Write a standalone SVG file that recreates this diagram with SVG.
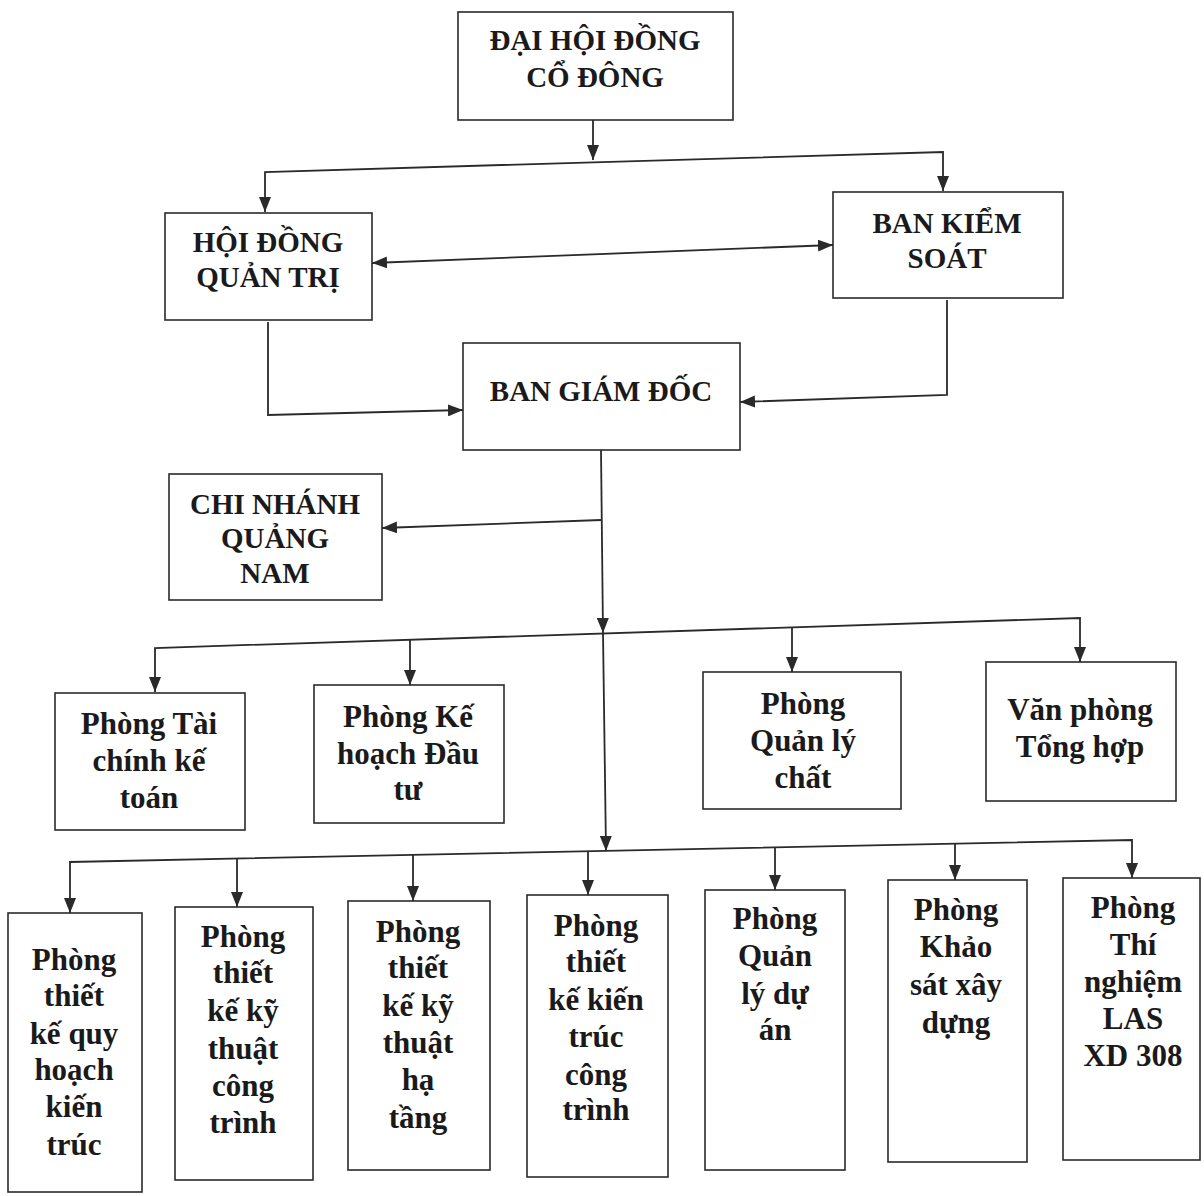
<svg xmlns="http://www.w3.org/2000/svg" width="1204" height="1196" viewBox="0 0 1204 1196">
<style>
rect.box{fill:#fff;stroke:#2a2a2a;stroke-width:1.6}
text{font-family:'Liberation Serif','Tinos','DejaVu Serif',serif;font-weight:bold;fill:#1a1a1a;text-anchor:middle}
.caps{font-size:29px}
.lbl{font-size:31px}
.conn path{fill:none;stroke:#2a2a2a;stroke-width:1.8}
</style>
<defs>
<marker id="ah" markerUnits="userSpaceOnUse" markerWidth="16" markerHeight="12" refX="15" refY="6" orient="auto-start-reverse" viewBox="0 0 16 12">
<path d="M0,0 L15,6 L0,12 z" fill="#2a2a2a"/>
</marker>
</defs>
<rect width="1204" height="1196" fill="#fff"/>
<g class="conn" id="connectors">
<path d="M593,120 L593,160" marker-end="url(#ah)"/>
<path d="M265,212 L265,172 L943,152 L943,191" marker-start="url(#ah)" marker-end="url(#ah)"/>
<path d="M372,263 L833,245" marker-start="url(#ah)" marker-end="url(#ah)"/>
<path d="M268,322 L268,415 L463,410" marker-end="url(#ah)"/>
<path d="M947,300 L947,395 L740,402" marker-end="url(#ah)"/>
<path d="M601,450 L603,633" marker-end="url(#ah)"/>
<path d="M603,633 L606,851" marker-end="url(#ah)"/>
<path d="M601,520 L382,528" marker-end="url(#ah)"/>
<path d="M155,692 L155,648 L1080,618 L1080,662" marker-start="url(#ah)" marker-end="url(#ah)"/>
<path d="M410,640 L410,685" marker-end="url(#ah)"/>
<path d="M792,627 L792,672" marker-end="url(#ah)"/>
<path d="M70,913 L70,862 L1132,840 L1132,878" marker-start="url(#ah)" marker-end="url(#ah)"/>
<path d="M237,858 L237,907" marker-end="url(#ah)"/>
<path d="M413,855 L413,901" marker-end="url(#ah)"/>
<path d="M588,851 L588,895" marker-end="url(#ah)"/>
<path d="M775,847 L775,890" marker-end="url(#ah)"/>
<path d="M955,844 L955,880" marker-end="url(#ah)"/>
</g>
<g id="dhdcd"><rect class="box" x="458" y="12" width="275" height="108"/>
<text class="caps" x="595" y="50">ĐẠI HỘI ĐỒNG</text><text class="caps" x="595" y="87">CỔ ĐÔNG</text></g>
<g id="hdqt"><rect class="box" x="165" y="213" width="207" height="107"/>
<text class="caps" x="268" y="252">HỘI ĐỒNG</text><text class="caps" x="268" y="287">QUẢN TRỊ</text></g>
<g id="bks"><rect class="box" x="833" y="192" width="230" height="106"/>
<text class="caps" x="947" y="233">BAN KIỂM</text><text class="caps" x="947" y="268">SOÁT</text></g>
<g id="bgd"><rect class="box" x="463" y="343" width="277" height="107"/>
<text class="caps" x="601" y="401">BAN GIÁM ĐỐC</text></g>
<g id="cnqn"><rect class="box" x="169" y="474" width="213" height="126"/>
<text class="caps" x="275" y="514">CHI NHÁNH</text><text class="caps" x="275" y="548">QUẢNG</text><text class="caps" x="275" y="583">NAM</text></g>
<g id="tckt"><rect class="box" x="55" y="693" width="190" height="137"/>
<text class="lbl" x="149" y="734">Phòng Tài</text><text class="lbl" x="149" y="771">chính kế</text><text class="lbl" x="149" y="808">toán</text></g>
<g id="khdt"><rect class="box" x="314" y="685" width="190" height="138"/>
<text class="lbl" x="408" y="727">Phòng Kế</text><text class="lbl" x="408" y="764">hoạch Đầu</text><text class="lbl" x="408" y="800">tư</text></g>
<g id="qlc"><rect class="box" x="703" y="672" width="198" height="137"/>
<text class="lbl" x="803" y="714">Phòng</text><text class="lbl" x="803" y="751">Quản lý</text><text class="lbl" x="803" y="788">chất</text></g>
<g id="vpth"><rect class="box" x="986" y="662" width="190" height="139"/>
<text class="lbl" x="1080" y="720">Văn phòng</text><text class="lbl" x="1080" y="757">Tổng hợp</text></g>
<g id="tkqh"><rect class="box" x="8" y="913" width="134" height="279"/>
<text class="lbl" x="74" y="970">Phòng</text><text class="lbl" x="74" y="1006">thiết</text><text class="lbl" x="74" y="1044">kế quy</text><text class="lbl" x="74" y="1080">hoạch</text><text class="lbl" x="74" y="1117">kiến</text><text class="lbl" x="74" y="1155">trúc</text></g>
<g id="tkktct"><rect class="box" x="175" y="907" width="138" height="273"/>
<text class="lbl" x="243" y="947">Phòng</text><text class="lbl" x="243" y="983">thiết</text><text class="lbl" x="243" y="1021">kế kỹ</text><text class="lbl" x="243" y="1059">thuật</text><text class="lbl" x="243" y="1096">công</text><text class="lbl" x="243" y="1133">trình</text></g>
<g id="tkktht"><rect class="box" x="348" y="901" width="142" height="269"/>
<text class="lbl" x="418" y="942">Phòng</text><text class="lbl" x="418" y="978">thiết</text><text class="lbl" x="418" y="1016">kế kỹ</text><text class="lbl" x="418" y="1053">thuật</text><text class="lbl" x="418" y="1090">hạ</text><text class="lbl" x="418" y="1128">tầng</text></g>
<g id="tkktr"><rect class="box" x="527" y="895" width="141" height="282"/>
<text class="lbl" x="596" y="936">Phòng</text><text class="lbl" x="596" y="972">thiết</text><text class="lbl" x="596" y="1010">kế kiến</text><text class="lbl" x="596" y="1047">trúc</text><text class="lbl" x="596" y="1085">công</text><text class="lbl" x="596" y="1120">trình</text></g>
<g id="qlda"><rect class="box" x="705" y="890" width="140" height="280"/>
<text class="lbl" x="775" y="929">Phòng</text><text class="lbl" x="775" y="966">Quản</text><text class="lbl" x="775" y="1004">lý dự</text><text class="lbl" x="775" y="1040">án</text></g>
<g id="ksxd"><rect class="box" x="888" y="880" width="139" height="282"/>
<text class="lbl" x="956" y="920">Phòng</text><text class="lbl" x="956" y="957">Khảo</text><text class="lbl" x="956" y="995">sát xây</text><text class="lbl" x="956" y="1033">dựng</text></g>
<g id="las"><rect class="box" x="1063" y="878" width="137" height="282"/>
<text class="lbl" x="1133" y="918">Phòng</text><text class="lbl" x="1133" y="955">Thí</text><text class="lbl" x="1133" y="992">nghiệm</text><text class="lbl" x="1133" y="1029">LAS</text><text class="lbl" x="1133" y="1066">XD 308</text></g>
</svg>
